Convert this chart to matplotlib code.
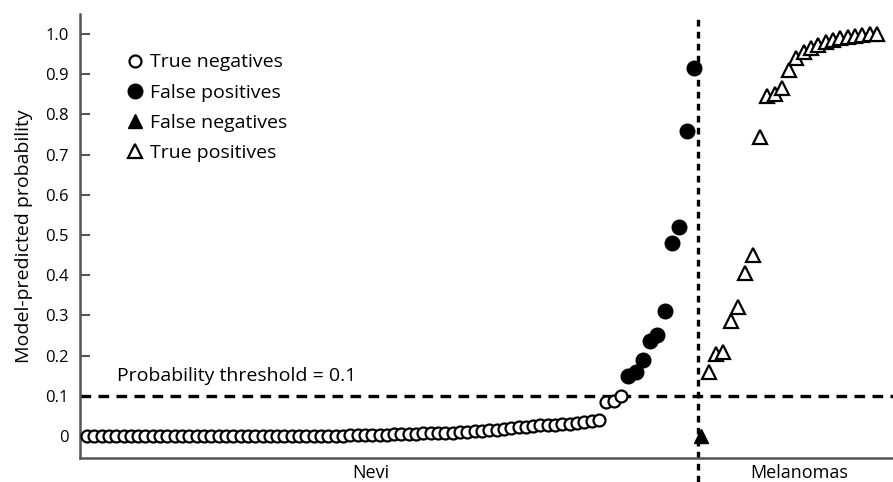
import numpy as np
import matplotlib
matplotlib.use("Agg")
import matplotlib.pyplot as plt

plt.rcParams['font.family'] = ['Open Sans', 'DejaVu Sans']

# model-predicted probabilities, lesions sorted by class and score
true_negatives = [0.0] * 36 + [
    0.001, 0.001, 0.002, 0.002, 0.003, 0.003, 0.004, 0.004, 0.005, 0.005,
    0.006, 0.006, 0.007, 0.007,
    0.008, 0.009, 0.010, 0.011, 0.012, 0.014, 0.015, 0.017, 0.019, 0.021,
    0.023, 0.025,
    0.026, 0.027, 0.028, 0.029, 0.030, 0.032, 0.034, 0.036, 0.040,
    0.085, 0.088, 0.100,
]
false_positives = [0.15, 0.16, 0.19, 0.235, 0.25, 0.31, 0.48, 0.52, 0.76, 0.915]
false_negatives = [0.0]
true_positives = [0.16, 0.205, 0.21, 0.285, 0.32, 0.405, 0.45, 0.745,
                  0.845, 0.85, 0.865, 0.91, 0.94, 0.955, 0.965, 0.973,
                  0.98, 0.985, 0.99, 0.993, 0.996, 0.998, 1.0, 1.0]

threshold = 0.1
group_labels = ['Nevi', 'Melanomas']
yticks = np.round(np.arange(0, 1.01, 0.1), 1)
ytick_labels = ['0'] + ['%.1f' % v for v in yticks[1:]]

n_tn = len(true_negatives)
n_fp = len(false_positives)
n_fn = len(false_negatives)
n_tp = len(true_positives)
x_tn = np.arange(n_tn)
x_fp = np.arange(n_fp) + n_tn
x_fn = np.arange(n_fn) + n_tn + n_fp
x_tp = np.arange(n_tp) + n_tn + n_fp + n_fn
split = n_tn + n_fp - 0.5

fig = plt.figure(figsize=(8.93, 4.82), dpi=100)
ax = fig.add_axes([0.0896, 0.0498, 0.9104, 0.9212])

ax.plot(x_tn, true_negatives, 'o', ms=8.6, mfc='white', mec='black', mew=1.6,
        label='True negatives', zorder=3)
ax.plot(x_fp, false_positives, 'o', ms=10.5, mfc='black', mec='black',
        label='False positives', zorder=3)
ax.plot(x_fn, false_negatives, '^', ms=10, mfc='black', mec='black',
        label='False negatives', zorder=3)
ax.plot(x_tp, true_positives, '^', ms=9.5, mfc='white', mec='black', mew=1.6,
        label='True positives', zorder=3)

ax.axhline(threshold, color='black', lw=2.4, ls=(0, (3.2, 2.2)), zorder=2)
ax.axvline(split, ymin=-0.055, ymax=1.0, color='black', lw=2.4,
           ls=(0, (2.0, 1.6)), clip_on=False, zorder=2)
ax.text(4.1, threshold + 0.05, 'Probability threshold = %g' % threshold,
        fontsize=14, va='center', ha='left')

ax.set_xlim(-0.95, 110.2)
ax.set_ylim(-0.055, 1.05)
ax.set_yticks(yticks)
ax.set_yticklabels(ytick_labels)
ax.tick_params(axis='y', direction='in', length=7, width=1.5, color='#555555',
               labelsize=12, pad=8)
ax.set_xticks([38.8, 97.4])
ax.set_xticklabels(group_labels)
ax.tick_params(axis='x', length=0, labelsize=13, pad=4)
ax.set_ylabel('Model-predicted probability', fontsize=14, labelpad=9)

for side in ['top', 'right']:
    ax.spines[side].set_visible(False)
for side in ['left', 'bottom']:
    ax.spines[side].set_color('#555555')
    ax.spines[side].set_linewidth(1.8)

ax.legend(loc='upper left', bbox_to_anchor=(0.058, 0.911), frameon=False,
          fontsize=14, handlelength=0.8, handletextpad=0.39, labelspacing=0.63,
          borderpad=0, borderaxespad=0)

fig.savefig('out.png', dpi=100)
